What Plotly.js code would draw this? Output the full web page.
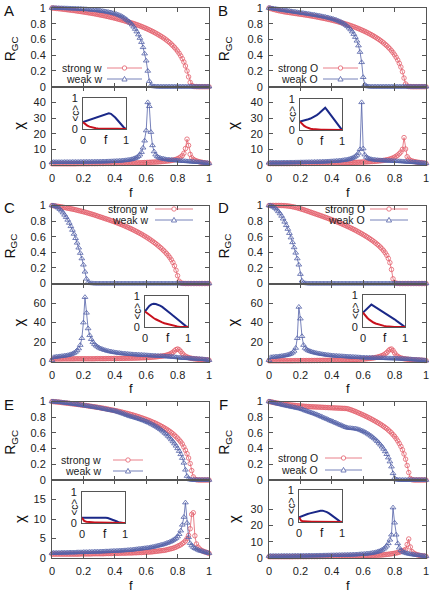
<!DOCTYPE html>
<html><head><meta charset="utf-8">
<script src="https://cdn.plot.ly/plotly-3.0.1.min.js"></script>
<style>html,body{margin:0;padding:0;background:#fff}</style>
</head><body><div id="chart" style="width:430px;height:592px"></div>
<script>
// ---------- data ----------
const f = [0,0.01,0.02,0.03,0.04,0.05,0.06,0.07,0.08,0.09,
0.1,0.11,0.12,0.13,0.14,0.15,0.16,0.17,0.18,0.19,
0.2,0.21,0.22,0.23,0.24,0.25,0.26,0.27,0.28,0.29,
0.3,0.31,0.32,0.33,0.34,0.35,0.36,0.37,0.38,0.39,
0.4,0.41,0.42,0.43,0.44,0.45,0.46,0.47,0.48,0.49,
0.5,0.51,0.52,0.53,0.54,0.55,0.56,0.57,0.58,0.59,
0.6,0.61,0.62,0.63,0.64,0.65,0.66,0.67,0.68,0.69,
0.7,0.71,0.72,0.73,0.74,0.75,0.76,0.77,0.78,0.79,
0.8,0.81,0.82,0.83,0.84,0.85,0.86,0.87,0.88,0.89,
0.9,0.91,0.92,0.93,0.94,0.95,0.96,0.97,0.98,0.99,1];
const fi = [0,0.05,0.1,0.15,0.2,0.25,0.3,0.35,0.4,0.45,0.5,0.55,0.6,0.65,0.7,0.75,0.8,0.85,0.9,0.95,1];

// Panel A
const A_Rs = [1,.998,.996,.994,.992,.99,.988,.985,.983,.98,
.978,.975,.973,.97,.968,.965,.962,.959,.956,.953,
.95,.947,.944,.94,.937,.934,.93,.927,.923,.919,
.915,.911,.907,.903,.899,.894,.89,.885,.88,.876,
.871,.866,.86,.855,.849,.844,.838,.832,.826,.82,
.814,.808,.802,.795,.788,.781,.773,.765,.757,.749,
.74,.731,.722,.712,.702,.692,.681,.67,.658,.646,
.634,.621,.607,.592,.576,.559,.541,.521,.5,.477,
.452,.424,.392,.356,.314,.263,.2,.125,.055,.015,
.004,.002,.001,0,0,0,0,0,0,0,0];
const A_Rw = [1,.999,.999,.998,.998,.997,.997,.996,.996,.995,
.995,.994,.993,.993,.992,.991,.99,.989,.988,.987,
.985,.984,.983,.981,.98,.978,.976,.974,.972,.969,
.967,.964,.961,.958,.955,.951,.947,.943,.938,.933,
.928,.922,.915,.907,.898,.887,.874,.86,.845,.828,
.81,.788,.762,.733,.7,.662,.618,.566,.5,.42,
.33,.2,.07,.015,.006,.003,.002,.001,0,0,
0,0,0,0,0,0,0,0,0,0,
0,0,0,0,0,0,0,0,0,0,
0,0,0,0,0,0,0,0,0,0,0];
const A_Xs = [.8,.8,.8,.8,.8,.8,.8,.8,.8,.8,
.8,.8,.8,.8,.8,.8,.85,.85,.85,.85,
.85,.85,.85,.85,.9,.9,.9,.9,.9,.9,
.95,.95,.95,.95,1,1,1,1,1,1,
1.05,1.05,1.05,1.1,1.1,1.1,1.15,1.15,1.2,1.2,
1.25,1.25,1.3,1.3,1.35,1.4,1.4,1.45,1.5,1.55,
1.6,1.65,1.7,1.75,1.8,1.85,1.9,1.95,2.05,2.1,
2.2,2.3,2.4,2.5,2.6,2.7,2.9,3.1,3.3,3.6,
4,4.5,5.1,6,7.5,10.5,16.5,12.5,6.8,4.6,
3.6,3,2.6,2.3,2,1.8,1.6,1.4,1.3,1.1,1];
const A_Xw = [1.7,1.8,1.8,1.8,1.8,1.8,1.8,1.8,1.85,1.85,
1.85,1.85,1.85,1.9,1.9,1.9,1.9,1.9,1.95,1.95,
1.95,2,2,2,2,2.05,2.05,2.05,2.1,2.1,
2.1,2.15,2.15,2.2,2.2,2.25,2.3,2.3,2.35,2.4,
2.45,2.5,2.55,2.6,2.7,2.8,2.9,3,3.1,3.3,
3.5,3.7,4,4.4,4.9,5.6,6.6,8.2,11,15.5,
22,40,37.5,21,12.5,8.6,6.6,5.5,4.8,4.4,
4.1,3.9,3.7,3.5,3.4,3.3,3.2,3.1,3,2.9,
2.8,2.7,2.6,2.55,2.5,2.4,2.3,2.25,2.2,2.1,
2,1.9,1.8,1.75,1.7,1.6,1.5,1.4,1.3,1.2,1];
const A_Is = [.22,.16,.11,.075,.05,.035,.025,.02,.015,.012,.01,.008,.007,.006,.005,.005,.005,.004,.003,.002,0];
const A_Iw = [.22,.245,.27,.295,.32,.345,.37,.395,.42,.445,.47,.495,.51,.49,.44,.37,.29,.2,.12,.05,0];

// Panel B
const B_Rs = [1,.994,.988,.982,.977,.972,.967,.963,.959,.955,
.951,.948,.945,.942,.939,.936,.933,.93,.927,.924,
.921,.918,.915,.912,.909,.906,.902,.899,.895,.892,
.888,.884,.88,.876,.872,.868,.864,.86,.855,.851,
.846,.841,.836,.831,.825,.82,.814,.808,.802,.796,
.79,.783,.776,.769,.762,.754,.746,.738,.73,.721,
.712,.703,.693,.683,.673,.662,.651,.639,.627,.614,
.601,.587,.572,.556,.539,.521,.502,.481,.458,.433,
.405,.374,.339,.298,.25,.19,.11,.035,.008,.003,
.001,0,0,0,0,0,0,0,0,0,0];
const B_Rw = [1,.997,.994,.991,.988,.985,.982,.979,.976,.973,
.97,.967,.964,.961,.958,.955,.952,.949,.946,.943,
.94,.937,.934,.931,.928,.925,.922,.918,.915,.912,
.908,.905,.901,.897,.893,.889,.885,.88,.875,.87,
.865,.859,.853,.846,.838,.83,.82,.809,.797,.783,
.767,.748,.726,.7,.668,.63,.583,.522,.44,.31,
.12,.025,.008,.003,.001,0,0,0,0,0,
0,0,0,0,0,0,0,0,0,0,
0,0,0,0,0,0,0,0,0,0,
0,0,0,0,0,0,0,0,0,0,0];
const B_Xs = [.9,.9,.9,.9,.9,.9,.9,.9,.9,.9,
.9,.9,.9,.9,.95,.95,.95,.95,.95,.95,
1,1,1,1,1,1,1.05,1.05,1.05,1.05,
1.1,1.1,1.1,1.1,1.15,1.15,1.15,1.2,1.2,1.2,
1.25,1.25,1.3,1.3,1.3,1.35,1.35,1.4,1.4,1.45,
1.5,1.5,1.55,1.6,1.6,1.65,1.7,1.75,1.8,1.85,
1.9,1.95,2,2.05,2.1,2.2,2.25,2.3,2.4,2.5,
2.6,2.7,2.8,2.95,3.1,3.3,3.5,3.8,4.1,4.5,
5,5.6,6.3,7.2,8.3,10,17.5,10.2,5.3,3.8,
3,2.6,2.3,2.1,1.9,1.7,1.6,1.5,1.3,1.2,1];
const B_Xw = [1.4,1.5,1.5,1.5,1.5,1.5,1.5,1.5,1.5,1.55,
1.55,1.55,1.55,1.6,1.6,1.6,1.6,1.65,1.65,1.65,
1.7,1.7,1.7,1.75,1.75,1.8,1.8,1.85,1.85,1.9,
1.9,1.95,2,2,2.05,2.1,2.15,2.2,2.25,2.3,
2.35,2.4,2.5,2.55,2.65,2.75,2.85,3,3.15,3.3,
3.5,3.75,4,4.4,4.9,5.5,6.4,7.7,10,40,
10.5,6.6,5.1,4.4,4,3.7,3.5,3.35,3.2,3.1,
3,2.95,2.9,2.85,2.8,2.75,2.7,2.65,2.6,2.55,
2.5,2.45,2.4,2.35,2.3,2.25,2.2,2.1,2,1.95,
1.9,1.8,1.7,1.65,1.6,1.5,1.4,1.3,1.2,1.1,1];
const B_Is = [.27,.19,.13,.09,.06,.04,.03,.02,.015,.012,.01,.008,.007,.006,.005,.005,.004,.003,.002,.001,0];
const B_Iw = [.27,.285,.3,.32,.345,.37,.4,.44,.48,.53,.59,.65,.72,.63,.54,.45,.36,.27,.18,.09,0];

// Panel C
const C_Rs = [1,.997,.994,.991,.988,.985,.981,.978,.974,.97,
.966,.962,.958,.954,.95,.945,.94,.935,.93,.925,
.92,.915,.909,.903,.897,.891,.885,.879,.872,.865,
.858,.852,.845,.838,.831,.825,.818,.811,.804,.797,
.79,.782,.774,.766,.758,.75,.741,.732,.723,.714,
.705,.695,.685,.675,.665,.654,.643,.632,.62,.608,
.596,.583,.57,.556,.542,.527,.512,.496,.479,.462,
.444,.425,.405,.383,.36,.334,.305,.27,.227,.17,
.1,.03,.007,.002,.001,0,0,0,0,0,
0,0,0,0,0,0,0,0,0,0,0];
const C_Rw = [1,.998,.993,.983,.97,.953,.933,.909,.88,.85,
.815,.776,.733,.686,.635,.58,.521,.458,.39,.32,
.24,.15,.06,.015,.005,.002,.001,0,0,0,
0,0,0,0,0,0,0,0,0,0,
0,0,0,0,0,0,0,0,0,0,
0,0,0,0,0,0,0,0,0,0,
0,0,0,0,0,0,0,0,0,0,
0,0,0,0,0,0,0,0,0,0,
0,0,0,0,0,0,0,0,0,0,
0,0,0,0,0,0,0,0,0,0,0];
const C_Xs = [1.5,2.8,2.8,2.8,2.8,2.8,2.8,2.9,2.9,2.9,
2.9,2.9,2.9,2.9,2.9,3,3,3,3,3,
3,3,3,3,3,3,3,3,3.1,3.1,
3.1,3.1,3.1,3.1,3.1,3.2,3.2,3.2,3.2,3.2,
3.3,3.3,3.3,3.3,3.4,3.4,3.4,3.5,3.5,3.5,
3.6,3.6,3.7,3.7,3.8,3.8,3.9,4,4,4.1,
4.2,4.3,4.4,4.5,4.6,4.8,4.9,5.1,5.3,5.5,
5.7,6,6.3,6.7,7.2,7.8,8.6,9.7,11,12.4,
13,12.2,10.5,8.5,6.8,5.6,4.8,4.2,3.7,3.4,
3.1,2.9,2.7,2.5,2.4,2.2,2.1,2,1.9,1.8,1.6];
const C_Xw = [1.5,4.5,4.8,5,5.2,5.4,5.6,5.8,6,6.3,
6.6,7,7.5,8.1,8.9,10,11.5,13.5,17,24,
40,66,50,34,27,23,20,18,16.5,15.3,
14.3,13.5,12.8,12.2,11.7,11.2,10.8,10.4,10.1,9.8,
9.5,9.3,9,8.8,8.6,8.4,8.2,8.1,7.9,7.8,
7.6,7.5,7.4,7.3,7.2,7.1,7,6.9,6.8,6.7,
6.6,6.5,6.4,6.3,6.2,6.1,6,5.9,5.8,5.7,
5.6,5.5,5.4,5.3,5.2,5.1,5,4.9,4.7,4.5,
4.3,4.1,3.9,3.8,3.7,3.6,3.5,3.4,3.3,3.2,
3.1,3,2.9,2.8,2.7,2.6,2.5,2.3,2.1,1.9,1.5];
const C_Is = [.5,.44,.39,.34,.29,.25,.21,.18,.15,.12,.1,.08,.06,.045,.03,.02,.01,.005,.002,.001,0];
const C_Iw = [.5,.6,.68,.73,.75,.74,.72,.69,.65,.6,.55,.49,.43,.37,.31,.25,.19,.13,.07,.03,0];

// Panel D
const D_Rs = [1,1,1,1,1,1,1,1,1,.999,
.998,.996,.994,.991,.988,.984,.98,.975,.97,.964,
.958,.952,.946,.939,.932,.925,.918,.911,.904,.897,
.89,.883,.876,.869,.862,.854,.847,.84,.832,.825,
.817,.809,.801,.793,.785,.777,.768,.759,.75,.741,
.732,.723,.713,.703,.693,.683,.672,.661,.65,.639,
.627,.615,.603,.59,.577,.563,.549,.534,.518,.502,
.484,.465,.444,.421,.394,.362,.322,.267,.18,.06,
.012,.003,.001,0,0,0,0,0,0,0,
0,0,0,0,0,0,0,0,0,0,0];
const D_Rw = [1,.998,.992,.981,.966,.947,.924,.897,.866,.83,
.79,.746,.698,.645,.588,.527,.462,.393,.32,.24,
.12,.035,.01,.003,.001,0,0,0,0,0,
0,0,0,0,0,0,0,0,0,0,
0,0,0,0,0,0,0,0,0,0,
0,0,0,0,0,0,0,0,0,0,
0,0,0,0,0,0,0,0,0,0,
0,0,0,0,0,0,0,0,0,0,
0,0,0,0,0,0,0,0,0,0,
0,0,0,0,0,0,0,0,0,0,0];
const D_Xs = [1,1,1,1,1,1,1,1,1,1,
1,1,1,1,1,1,1.05,1.05,1.05,1.05,
1.1,1.1,1.1,1.1,1.15,1.15,1.15,1.2,1.2,1.2,
1.25,1.25,1.3,1.3,1.3,1.35,1.35,1.4,1.4,1.45,
1.5,1.5,1.55,1.6,1.6,1.65,1.7,1.75,1.8,1.85,
1.9,1.95,2,2.05,2.1,2.2,2.3,2.4,2.5,2.6,
2.7,2.8,3,3.1,3.3,3.5,3.7,4,4.3,4.7,
5.1,5.6,6.2,7,8,9.3,11,12.5,13,11.5,
9,6.8,5.4,4.5,3.8,3.4,3,2.8,2.6,2.4,
2.2,2.1,2,1.9,1.8,1.7,1.6,1.5,1.4,1.3,1.2];
const D_Xw = [1.5,4.5,4.6,4.8,5,5.1,5.3,5.5,5.7,6,
6.3,6.6,7,7.6,8.3,9.3,11,14,24,56,
44,26,17,14,12.5,11.5,10.8,10.2,9.7,9.3,
8.9,8.5,8.2,7.9,7.6,7.4,7.1,6.9,6.7,6.5,
6.3,6.2,6,5.9,5.8,5.7,5.6,5.5,5.4,5.3,
5.2,5.1,5,4.9,4.8,4.7,4.6,4.5,4.4,4.3,
4.2,4.1,4.1,4,4,3.9,3.9,3.8,3.8,3.7,
3.7,3.6,3.6,3.5,3.5,3.4,3.4,3.4,3.3,3.3,
3.2,3.2,3.1,3,3,2.9,2.8,2.7,2.6,2.5,
2.4,2.3,2.2,2.1,2,1.9,1.8,1.6,1.5,1.3,1];
const D_Is = [.45,.36,.29,.23,.18,.14,.11,.085,.065,.05,.035,.025,.015,.01,.005,.003,.002,.001,0,0,0];
const D_Iw = [.45,.51,.575,.64,.7,.66,.62,.58,.54,.5,.46,.42,.38,.33,.29,.24,.19,.14,.08,.03,0];

// Panel E
const E_Rs = [1,.998,.996,.994,.992,.99,.988,.985,.983,.98,
.978,.976,.973,.971,.968,.966,.963,.961,.958,.955,
.953,.95,.947,.944,.941,.938,.935,.932,.929,.926,
.923,.919,.916,.912,.909,.905,.901,.897,.893,.889,
.885,.881,.876,.872,.867,.862,.857,.852,.847,.842,
.836,.831,.825,.819,.813,.806,.8,.793,.786,.779,
.771,.764,.756,.748,.739,.731,.722,.712,.702,.692,
.681,.67,.658,.646,.633,.619,.604,.588,.571,.552,
.532,.51,.486,.459,.42,.38,.335,.28,.21,.12,
.04,.01,.003,.001,0,0,0,0,0,0,0];
const E_Rw = [1,.998,.996,.994,.992,.99,.988,.986,.983,.981,
.978,.976,.973,.971,.968,.965,.962,.959,.956,.953,
.95,.947,.944,.941,.938,.935,.931,.928,.925,.921,
.918,.914,.91,.906,.902,.898,.894,.89,.886,.883,
.88,.874,.867,.861,.854,.847,.84,.832,.825,.817,
.81,.805,.799,.793,.787,.781,.774,.767,.76,.753,
.745,.736,.727,.717,.707,.696,.685,.673,.66,.646,
.631,.615,.598,.58,.56,.539,.516,.491,.464,.435,
.403,.368,.327,.279,.218,.13,.05,.015,.005,.002,
0,0,0,0,0,0,0,0,0,0,0];
const E_Xs = [1,1,1,1,1,1,1,1,1,1,
1,1,1,1,1,1,1,1,1.05,1.05,
1.05,1.05,1.05,1.05,1.05,1.05,1.1,1.1,1.1,1.1,
1.1,1.1,1.1,1.1,1.15,1.15,1.15,1.15,1.15,1.2,
1.2,1.2,1.2,1.2,1.25,1.25,1.25,1.25,1.3,1.3,
1.3,1.3,1.35,1.35,1.35,1.4,1.4,1.4,1.45,1.45,
1.5,1.5,1.55,1.55,1.6,1.65,1.7,1.75,1.8,1.85,
1.9,1.95,2,2.1,2.2,2.3,2.4,2.5,2.65,2.8,
3,3.2,3.4,3.7,4,4.4,5,5.8,7.5,11.2,
11.6,5.7,3.6,2.8,2.3,2,1.8,1.6,1.5,1.35,1.2];
const E_Xw = [1.25,1.3,1.3,1.3,1.3,1.3,1.35,1.35,1.35,1.35,
1.35,1.4,1.4,1.4,1.4,1.4,1.45,1.45,1.45,1.45,
1.5,1.5,1.5,1.5,1.55,1.55,1.55,1.6,1.6,1.6,
1.6,1.65,1.65,1.65,1.7,1.7,1.7,1.75,1.75,1.8,
1.8,1.8,1.85,1.85,1.9,1.9,1.95,1.95,2,2.05,
2.05,2.1,2.15,2.2,2.25,2.3,2.35,2.4,2.45,2.5,
2.55,2.6,2.65,2.75,2.8,2.9,3,3.1,3.2,3.3,
3.4,3.5,3.65,3.8,3.95,4.1,4.3,4.55,4.8,5.1,
5.5,6.1,7,8.5,10.5,14.2,9,5.3,3.8,3.2,
2.8,2.5,2.3,2.1,1.9,1.8,1.7,1.55,1.45,1.35,1.2];
const E_Is = [.17,.07,.04,.03,.025,.022,.02,.02,.018,.017,.016,.015,.014,.013,.012,.011,.01,.008,.005,.002,0];
const E_Iw = [.17,.172,.174,.176,.178,.18,.18,.18,.18,.178,.175,.17,.16,.14,.115,.085,.055,.025,.008,.002,0];

// Panel F
const F_Rs = [1,.996,.992,.988,.984,.98,.977,.974,.971,.968,
.965,.962,.96,.957,.955,.953,.951,.949,.947,.945,
.943,.941,.94,.938,.937,.936,.934,.933,.932,.931,
.93,.929,.928,.927,.926,.925,.924,.923,.922,.921,
.92,.919,.918,.917,.916,.915,.914,.913,.912,.911,
.908,.902,.895,.888,.88,.872,.864,.855,.846,.837,
.828,.819,.809,.799,.789,.779,.768,.757,.746,.734,
.722,.71,.697,.683,.669,.654,.637,.619,.6,.578,
.555,.528,.498,.465,.428,.385,.332,.265,.185,.095,
.02,.004,.001,0,0,0,0,0,0,0,0];
const F_Rw = [1,.995,.99,.985,.98,.975,.97,.965,.96,.955,
.95,.946,.942,.937,.933,.929,.925,.92,.916,.912,
.908,.901,.894,.886,.879,.872,.865,.858,.851,.844,
.837,.828,.82,.811,.802,.793,.785,.776,.767,.758,
.75,.741,.733,.724,.715,.706,.698,.689,.68,.672,
.665,.662,.66,.658,.656,.654,.65,.645,.638,.63,
.621,.611,.6,.588,.575,.561,.546,.53,.512,.493,
.472,.449,.424,.396,.364,.328,.285,.234,.17,.085,
.025,.006,.002,.001,0,0,0,0,0,0,
0,0,0,0,0,0,0,0,0,0,0];
const F_Xs = [.8,.8,.8,.8,.8,.8,.8,.8,.8,.8,
.8,.8,.8,.8,.8,.8,.85,.85,.85,.85,
.85,.85,.85,.85,.85,.9,.9,.9,.9,.9,
.9,.9,.95,.95,.95,.95,.95,1,1,1,
1,1,1,1.05,1.05,1.05,1.05,1.1,1.1,1.1,
1.1,1.1,1.15,1.15,1.15,1.2,1.2,1.25,1.25,1.3,
1.3,1.35,1.35,1.4,1.45,1.5,1.55,1.6,1.65,1.7,
1.75,1.8,1.9,2,2.1,2.2,2.3,2.45,2.6,2.75,
2.9,3.1,3.3,3.6,3.9,4.3,4.8,5.2,8.3,11.7,
6.8,4,3,2.5,2.1,1.8,1.6,1.4,1.3,1.2,1];
const F_Xw = [1.2,1.25,1.25,1.25,1.25,1.25,1.25,1.25,1.3,1.3,
1.3,1.3,1.3,1.3,1.3,1.35,1.35,1.35,1.35,1.35,
1.4,1.4,1.4,1.4,1.4,1.45,1.45,1.45,1.45,1.5,
1.5,1.5,1.55,1.55,1.55,1.6,1.6,1.6,1.65,1.65,
1.7,1.7,1.7,1.75,1.75,1.8,1.8,1.85,1.85,1.9,
1.9,1.95,2,2,2.05,2.1,2.15,2.2,2.3,2.35,
2.4,2.5,2.6,2.7,2.8,2.95,3.1,3.3,3.5,3.8,
4.1,4.5,5,5.6,6.4,7.5,9,11.2,14.3,31,
21.7,14.3,9,6.3,4.8,4,3.5,3.1,2.8,2.6,
2.4,2.2,2.1,1.9,1.8,1.7,1.6,1.5,1.3,1.2,1];
const F_Is = [.15,.04,.02,.012,.01,.01,.01,.01,.01,.01,.01,.01,.01,.01,.01,.01,.01,.008,.005,.002,0];
const F_Iw = [.15,.18,.21,.23,.25,.27,.29,.31,.33,.345,.35,.355,.34,.31,.27,.22,.16,.1,.05,.02,0];

const tickF = [0,0.2,0.4,0.6,0.8,1];
const chiTicksA = [0,10,20,30,40];
const chiTicksC = [0,20,40,60];
const chiTicksE = [0,5,10,15];
const chiTicksF = [0,10,20,30];

// ---------- layout ----------
const W=430, H=592;
const px = x => x/W, py = y => 1 - y/H;
const RED='#e3606c', BLUE='#5462a8', IRED='#c8101c', IBLUE='#1a2888';
const FRAME='#555';
const FONT='Liberation Sans, Arial, sans-serif';
const cols=[[52,209],[269,426]];
const rows=[[8,86.7,165],[205.5,283.5,361.7],[401.5,480,558]];

const panels=[
 {lab:'A',c:0,r:0,sym:'w',Rs:A_Rs,Rw:A_Rw,Xs:A_Xs,Xw:A_Xw,Is:A_Is,Iw:A_Iw,chiRange:[0,50],chiTicks:chiTicksA,inset:[83,126,98,129],leg:{tx:104,sx0:107,sx1:142,y1:68,y2:79}},
 {lab:'B',c:1,r:0,sym:'O',Rs:B_Rs,Rw:B_Rw,Xs:B_Xs,Xw:B_Xw,Is:B_Is,Iw:B_Iw,chiRange:[0,50],chiTicks:chiTicksA,inset:[300,342,99,130],leg:{tx:320,sx0:323,sx1:358,y1:68,y2:79}},
 {lab:'C',c:0,r:1,sym:'w',Rs:C_Rs,Rw:C_Rw,Xs:C_Xs,Xw:C_Xw,Is:C_Is,Iw:C_Iw,chiRange:[0,80],chiTicks:chiTicksC,inset:[145,188,296,327],leg:{tx:150,sx0:155,sx1:193,y1:209,y2:220}},
 {lab:'D',c:1,r:1,sym:'O',Rs:D_Rs,Rw:D_Rw,Xs:D_Xs,Xw:D_Xw,Is:D_Is,Iw:D_Iw,chiRange:[0,80],chiTicks:chiTicksC,inset:[363,405,295,327],leg:{tx:367,sx0:370,sx1:408,y1:209,y2:220}},
 {lab:'E',c:0,r:2,sym:'w',Rs:E_Rs,Rw:E_Rw,Xs:E_Xs,Xw:E_Xw,Is:E_Is,Iw:E_Iw,chiRange:[0,20],chiTicks:chiTicksE,inset:[82,125,492,523],leg:{tx:103,sx0:113,sx1:143,y1:460,y2:471}},
 {lab:'F',c:1,r:2,sym:'O',Rs:F_Rs,Rw:F_Rw,Xs:F_Xs,Xw:F_Xw,Is:F_Is,Iw:F_Iw,chiRange:[0,48],chiTicks:chiTicksF,inset:[299,342,490,522],leg:{tx:320,sx0:325,sx1:362,y1:458,y2:470}}
];

const layout={width:W,height:H,margin:{l:0,r:0,t:0,b:0},paper_bgcolor:'#fff',plot_bgcolor:'rgba(0,0,0,0)',
  showlegend:false,font:{family:FONT,size:11,color:'#222'},annotations:[],shapes:[]};
const traces=[];
const axKey=(n,t)=> n===1 ? t+'axis' : t+'axis'+n;
const ref=(n,t)=> n===1 ? t : t+n;
const baseAx={showline:true,linecolor:FRAME,linewidth:1,mirror:'ticks',ticks:'inside',ticklen:4,tickwidth:1,
  tickcolor:FRAME,showgrid:false,zeroline:false,fixedrange:true,tickfont:{size:11,family:FONT,color:'#222'},ticklabelstandoff:3};
const ann=(x,y,text,o)=>layout.annotations.push(Object.assign({xref:'paper',yref:'paper',x:px(x),y:py(y),text:text,
  showarrow:false,xanchor:'center',yanchor:'middle',font:{family:FONT,size:11,color:'#222'}},o||{}));

panels.forEach((P,i)=>{
  const n1=3*i+1,n2=3*i+2,n3=3*i+3;
  const [cx0,cx1]=cols[P.c]; const [ry0,rym,ry1]=rows[P.r];
  const xd=[px(cx0),px(cx1)];
  layout[axKey(n1,'x')]=Object.assign({},baseAx,{domain:xd,range:[0,1],tickvals:tickF,showticklabels:false,anchor:ref(n1,'y')});
  layout[axKey(n1,'y')]=Object.assign({},baseAx,{domain:[py(rym),py(ry0)],range:[0,1],tickvals:tickF,anchor:ref(n1,'x')});
  layout[axKey(n2,'x')]=Object.assign({},baseAx,{domain:xd,range:[0,1],tickvals:tickF,anchor:ref(n2,'y')});
  layout[axKey(n2,'y')]=Object.assign({},baseAx,{domain:[py(ry1),py(rym)],range:P.chiRange,tickvals:P.chiTicks,anchor:ref(n2,'x')});
  const [ix0,ix1,iy0,iy1]=P.inset;
  layout[axKey(n3,'x')]=Object.assign({},baseAx,{ticks:'',mirror:true,domain:[px(ix0),px(ix1)],range:[0,1],tickvals:[0,1],anchor:ref(n3,'y'),ticklabelstandoff:1});
  layout[axKey(n3,'y')]=Object.assign({},baseAx,{ticks:'',mirror:true,domain:[py(iy1),py(iy0)],range:[0,1],tickvals:[0,1],anchor:ref(n3,'x'),ticklabelstandoff:2});

  const sR={mode:'lines+markers',cliponaxis:false,hoverinfo:'skip',line:{color:RED,width:0.8},
    marker:{symbol:'circle-open',size:4.5,color:RED,line:{color:RED,width:0.8}}};
  const sB={mode:'lines+markers',cliponaxis:false,hoverinfo:'skip',line:{color:BLUE,width:0.8},
    marker:{symbol:'triangle-up-open',size:5,color:BLUE,line:{color:BLUE,width:0.8}}};
  traces.push(Object.assign({x:f,y:P.Rs,xaxis:ref(n1,'x'),yaxis:ref(n1,'y')},sR));
  traces.push(Object.assign({x:f,y:P.Rw,xaxis:ref(n1,'x'),yaxis:ref(n1,'y')},sB));
  traces.push(Object.assign({x:f,y:P.Xs,xaxis:ref(n2,'x'),yaxis:ref(n2,'y')},sR));
  traces.push(Object.assign({x:f,y:P.Xw,xaxis:ref(n2,'x'),yaxis:ref(n2,'y')},sB));
  traces.push({x:fi,y:P.Iw,xaxis:ref(n3,'x'),yaxis:ref(n3,'y'),mode:'lines',cliponaxis:false,hoverinfo:'skip',line:{color:IBLUE,width:2}});
  traces.push({x:fi,y:P.Is,xaxis:ref(n3,'x'),yaxis:ref(n3,'y'),mode:'lines',cliponaxis:false,hoverinfo:'skip',line:{color:IRED,width:2}});

  const off=P.c===0?0:214;
  ann(off+9,(P.r===0?11:(P.r===1?207:404)),P.lab,{font:{family:FONT,size:15,color:'#111'}});
  ann(off+11,(ry0+rym)/2+2,'R<sub>GC</sub>',{textangle:-90,font:{family:FONT,size:14,color:'#111'}});
  ann(off+19,(rym+ry1)/2,'χ',{textangle:-90,font:{family:FONT,size:15,color:'#111'}});
  ann((cx0+cx1)/2,ry1+27,'f',{font:{family:FONT,size:13,color:'#111'}});
  ann((ix0+ix1)/2+1,iy1+11,'f',{font:{family:FONT,size:12,color:'#111'}});
  ann(ix0-8,(iy0+iy1)/2,'&lt;c&gt;',{textangle:-90,font:{family:FONT,size:10,color:'#111'}});
  const L=P.leg, mx=(L.sx0+L.sx1)/2;
  ann(L.tx,L.y1,'strong '+P.sym,{xanchor:'right',font:{family:FONT,size:10.5,color:'#222'}});
  ann(L.tx,L.y2,'weak '+P.sym,{xanchor:'right',font:{family:FONT,size:10.5,color:'#222'}});
  layout.shapes.push({type:'line',xref:'paper',yref:'paper',x0:px(L.sx0),x1:px(L.sx1),y0:py(L.y1),y1:py(L.y1),line:{color:RED,width:0.8}});
  layout.shapes.push({type:'line',xref:'paper',yref:'paper',x0:px(L.sx0),x1:px(L.sx1),y0:py(L.y2),y1:py(L.y2),line:{color:BLUE,width:0.8}});
  layout.shapes.push({type:'circle',xref:'paper',yref:'paper',x0:px(mx-2.2),x1:px(mx+2.2),y0:py(L.y1+2.2),y1:py(L.y1-2.2),fillcolor:'#fff',line:{color:RED,width:0.8}});
  layout.shapes.push({type:'path',xref:'paper',yref:'paper',path:'M '+px(mx-2.6)+' '+py(L.y2+2)+' L '+px(mx+2.6)+' '+py(L.y2+2)+' L '+px(mx)+' '+py(L.y2-2.6)+' Z',fillcolor:'#fff',line:{color:BLUE,width:0.8}});
});

Plotly.newPlot('chart',traces,layout,{staticPlot:true,displayModeBar:false});
</script>
</body></html>
